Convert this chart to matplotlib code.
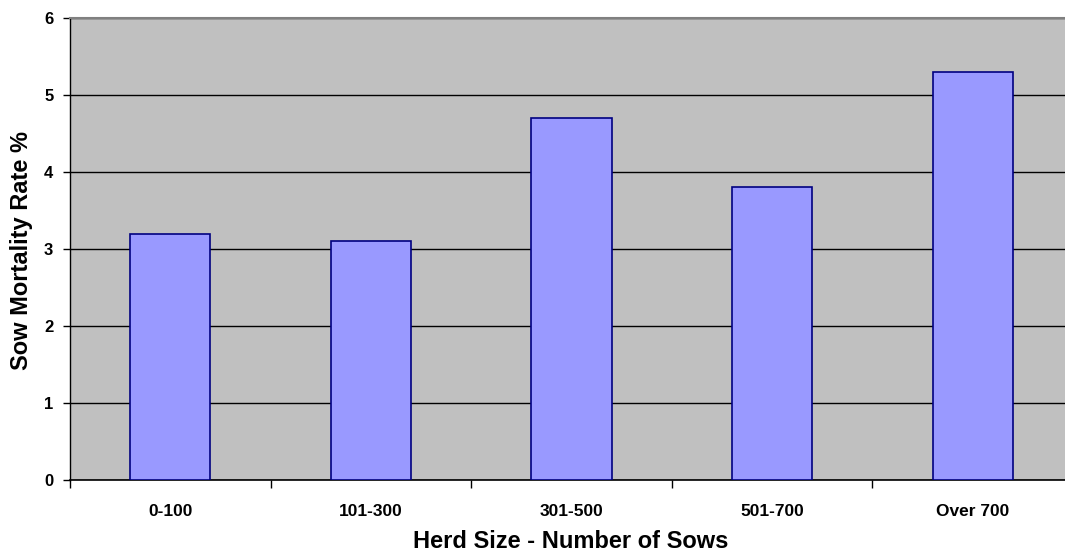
import matplotlib
matplotlib.use("Agg")
import matplotlib.pyplot as plt
import numpy as np

categories = ["0-100", "101-300", "301-500", "501-700", "Over 700"]
values = [3.2, 3.1, 4.7, 3.8, 5.3]
yticks = [0, 1, 2, 3, 4, 5, 6]

plt.rcParams['font.family'] = ['Liberation Sans', 'DejaVu Sans']

W, H = 1065, 554
fig = plt.figure(figsize=(W/100, H/100), dpi=100)
left, right, top, bottom = 70, 1073, 18, 480
ax = fig.add_axes([left/W, 1 - bottom/H, (right-left)/W, (bottom-top)/H])
ax.set_facecolor("#C0C0C0")

x = np.arange(len(categories))
ax.bar(x, values, width=0.40, color="#9999FF", edgecolor="#000080", linewidth=1.2, zorder=3)
ax.set_xlim(-0.5, len(categories) - 0.5)
ax.set_ylim(0, 6)
ax.set_yticks(yticks)
ax.set_yticklabels([str(t) for t in yticks], fontsize=12, fontweight='bold')
ax.yaxis.grid(True, color="black", linewidth=1.0, zorder=1)
ax.set_axisbelow(True)

ax.set_xticks(x)
ax.set_xticklabels(categories, fontsize=12.5, fontweight='bold')
ax.tick_params(axis='x', length=0, pad=17)
ax.set_xticks(np.arange(len(categories) + 1) - 0.5, minor=True)
ax.tick_params(axis='x', which='minor', length=6, width=1, color='black')
ax.tick_params(axis='y', length=5, width=1, color='black', pad=7)

for s in ['top', 'right']:
    ax.spines[s].set_color('#808080')
    ax.spines[s].set_linewidth(1.5)
ax.spines['left'].set_color('black')
ax.spines['bottom'].set_color('black')
ax.spines['left'].set_linewidth(1.0)
ax.spines['bottom'].set_linewidth(1.2)

fig.text(571/W, 1 - 541/H, "Herd Size - Number of Sows", fontsize=17, fontweight='bold',
         ha='center', va='center')
fig.text(22/W, 1 - 250/H, "Sow Mortality Rate %", fontsize=17, fontweight='bold',
         ha='center', va='center', rotation=90)

fig.savefig("out.png", dpi=100)
